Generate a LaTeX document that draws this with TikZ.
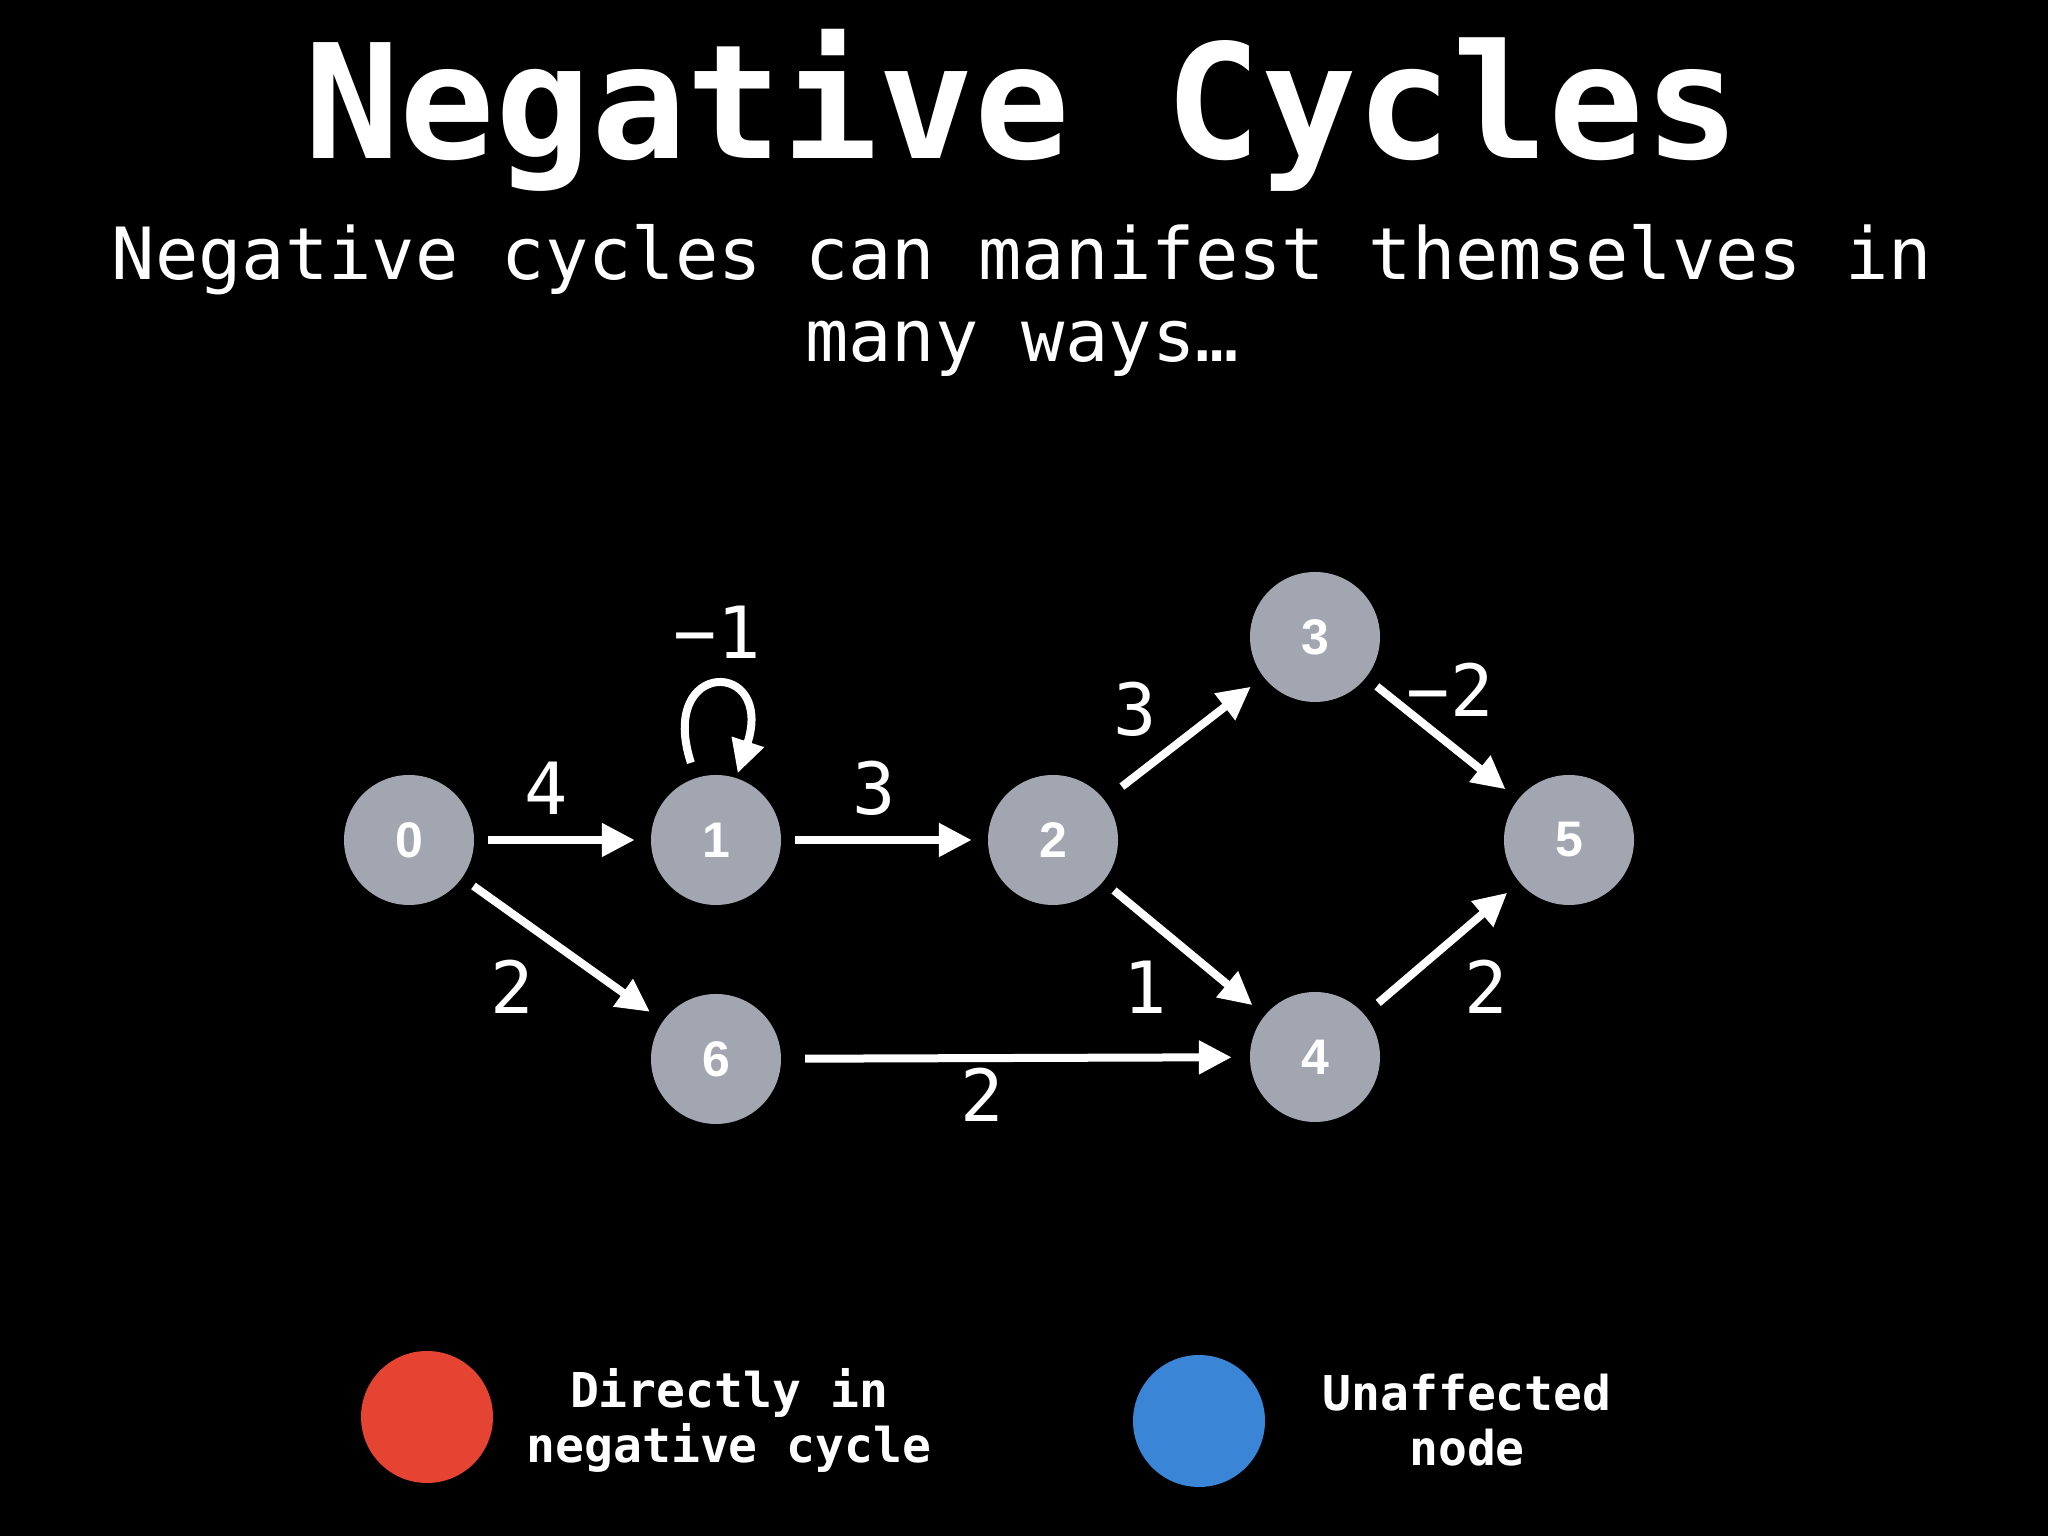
\documentclass[tikz,border=0pt]{standalone}
\usepackage{fontspec}
\setmonofont{DejaVu Sans Mono}
\newfontfamily\digitfont{Liberation Sans Bold}
\usetikzlibrary{arrows.meta}

\definecolor{vgray}{RGB}{161,166,176}
\definecolor{cycred}{RGB}{229,68,50}
\definecolor{freeblue}{RGB}{58,133,214}

\tikzset{
    vertex/.style={circle,fill=vgray,minimum size=130pt,inner sep=0pt,text=white,
        font=\digitfont\fontsize{50}{50}\selectfont},
    keydot/.style={circle,minimum size=132pt,inner sep=0pt},
    wt/.style={text=white,inner sep=0pt,font=\ttfamily\fontsize{72}{72}\selectfont},
    keytext/.style={text=white,align=center,anchor=base,
        font=\ttfamily\bfseries\fontsize{48}{55}\selectfont},
    edgearrow/.style={draw=white,line width=8pt,-{Triangle[length=33pt,width=32pt]},
        shorten <=14pt,shorten >=16pt},
}

\begin{document}
\begin{tikzpicture}[x=1pt,y=1pt]

    \path[use as bounding box,fill=black] (0,0) rectangle (2048,1536);

    % heading (base anchor sits on the last line)
    \node[text=white,anchor=base,font=\ttfamily\bfseries\fontsize{159}{159}\selectfont] (title) at (1022,1377) {Negative Cycles};
    \node[text=white,anchor=base,align=center,font=\ttfamily\fontsize{72}{82}\selectfont] (subtitle) at (1022,1174) {Negative cycles can manifest themselves in\\many ways…};

    % graph
    \node[vertex] (n0) at (409,696) {0};
    \node[vertex] (n1) at (716,696) {1};
    \node[vertex] (n2) at (1053,696) {2};
    \node[vertex] (n3) at (1315,899) {3};
    \node[vertex] (n4) at (1315,479) {4};
    \node[vertex] (n5) at (1569,696) {5};
    \node[vertex] (n6) at (716,477) {6};

    \draw[edgearrow] (n0) -- (n1);
    \draw[edgearrow,shorten <=16pt,shorten >=5pt] (n1) to[out=108,in=72,looseness=8] (n1);
    \draw[edgearrow] (n1) -- (n2);
    \draw[edgearrow,shorten <=22pt] (n2) -- (n3);
    \draw[edgearrow] (n3) -- (n5);
    \draw[edgearrow] (n2) -- (n4);
    \draw[edgearrow,shorten <=18pt] (n4) -- (n5);
    \draw[edgearrow] (n0) -- (n6);
    \draw[edgearrow,shorten <=24pt,shorten >=18pt] (n6) -- (n4);

    % weights
    \node[wt] (w01) at (546,748) {4};
    \node[wt] (w11) at (717,904) {−1};
    \node[wt] (w12) at (874,748) {3};
    \node[wt] (w23) at (1135,827) {3};
    \node[wt] (w35) at (1450,846) {−2};
    \node[wt] (w06) at (512,549) {2};
    \node[wt] (w24) at (1145,549) {1};
    \node[wt] (w45) at (1486,549) {2};
    \node[wt] (w64) at (982,441) {2};

    % legend
    \node[keydot,fill=cycred] (redkey) at (427,119) {};
    \node[keytext] (redtext) at (729,73) {Directly in\\negative cycle};
    \node[keydot,fill=freeblue] (bluekey) at (1199,115) {};
    \node[keytext] (bluetext) at (1467,70) {Unaffected\\node};

\end{tikzpicture}
\end{document}
